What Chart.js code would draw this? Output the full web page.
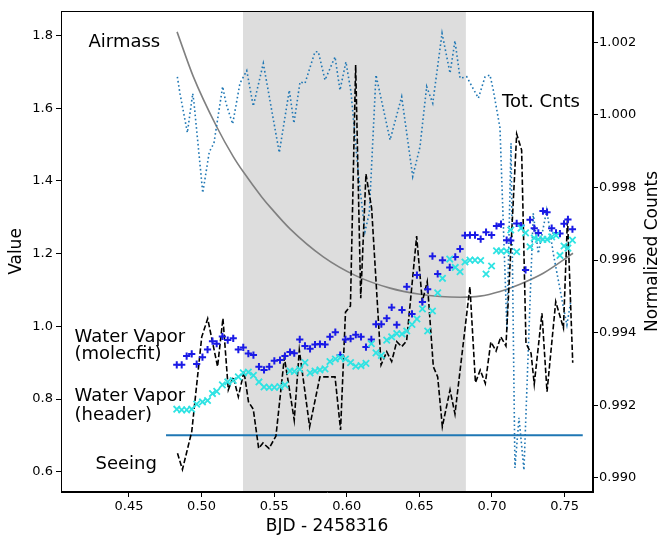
<!DOCTYPE html>
<html>
<head>
<meta charset="utf-8">
<script src="https://cdn.jsdelivr.net/npm/chart.js@4.4.0/dist/chart.umd.min.js"></script>
<style>
  body { margin: 0; background: #fff; }
  #wrap { width: 663px; height: 539px; }
</style>
</head>
<body>
<div id="wrap"><canvas id="chart" width="663" height="539"></canvas></div>
<script>
// time grid for the water vapour points (BJD - 2458316)
const bjd = [
  0.4829, 0.4863, 0.4897, 0.4932, 0.4966, 0.5006, 0.5041, 0.5075, 0.5104, 0.5143,
  0.5180, 0.5218, 0.5253, 0.5287, 0.5322, 0.5357, 0.5395, 0.5430, 0.5466, 0.5501,
  0.5540, 0.5574, 0.5609, 0.5638, 0.5676, 0.5712, 0.5747, 0.5781, 0.5815, 0.5850,
  0.5884, 0.5921, 0.5955, 0.5991, 0.6026, 0.6062, 0.6098, 0.6132, 0.6169, 0.6201,
  0.6238, 0.6275, 0.6309, 0.6344, 0.6380, 0.6413, 0.6449, 0.6483, 0.6521, 0.6557,
  0.6590, 0.6626, 0.6659, 0.6709, 0.6747, 0.6780, 0.6814, 0.6848, 0.6883, 0.6922,
  0.6959, 0.6997, 0.7031, 0.7062, 0.7101, 0.7129, 0.7170, 0.7200, 0.7231, 0.7262,
  0.7291, 0.7319, 0.7351, 0.7379, 0.7411, 0.7441, 0.7468, 0.7496, 0.7523, 0.7554
];
const wvMolecfit = [
  0.894, 0.894, 0.918, 0.924, 0.896, 0.915, 0.936, 0.959, 0.952, 0.972,
  0.962, 0.967, 0.936, 0.942, 0.925, 0.921, 0.889, 0.880, 0.889, 0.905,
  0.907, 0.918, 0.929, 0.926, 0.964, 0.946, 0.938, 0.950, 0.951, 0.950,
  0.971, 0.984, 0.921, 0.964, 0.966, 0.977, 0.971, 0.943, 0.964, 1.006,
  1.006, 1.022, 1.052, 1.004, 1.045, 1.109, 1.034, 1.141, 1.067, 1.102,
  1.193, 1.144, 1.182, 1.162, 1.191, 1.213, 1.250, 1.251, 1.251, 1.240,
  1.259, 1.251, 1.276, 1.281, 1.237, 1.236, 1.283, 1.277, 1.155, 1.293,
  1.270, 1.257, 1.317, 1.314, 1.270, 1.257, 1.255, 1.282, 1.294, 1.267
];
const wvHeader = [
  0.772, 0.770, 0.770, 0.772, 0.786, 0.792, 0.796, 0.815, 0.821, 0.839,
  0.847, 0.851, 0.861, 0.872, 0.874, 0.865, 0.847, 0.833, 0.832, 0.832,
  0.834, 0.839, 0.877, 0.876, 0.882, 0.900, 0.872, 0.877, 0.880, 0.883,
  0.903, 0.910, 0.914, 0.910, 0.900, 0.890, 0.892, 0.898, 0.952, 0.927,
  0.920, 0.962, 0.971, 0.980, 0.979, 0.987, 1.005, 1.020, 1.048, 0.987,
  1.042, 1.092, 1.132, 1.185, 1.162, 1.150, 1.177, 1.182, 1.182, 1.181,
  1.144, 1.166, 1.208, 1.207, 1.207, 1.265, 1.205, 1.270, 1.257, 1.219,
  1.243, 1.239, 1.239, 1.239, 1.246, 1.250, 1.195, 1.221, 1.215, 1.237
];

const airmassBjd = [0.4831, 0.4943, 0.5104, 0.5218, 0.5287, 0.5414, 0.5483, 0.5609, 0.5838, 0.6068,
  0.6298, 0.6504, 0.6642, 0.6780, 0.6917, 0.7055, 0.7193, 0.7353, 0.7558];
const airmass = [1.810, 1.687, 1.549, 1.467, 1.425, 1.356, 1.323, 1.268, 1.191, 1.138,
  1.105, 1.088, 1.082, 1.080, 1.083, 1.096, 1.116, 1.146, 1.201];

const seeingBjd = [
  0.4834, 0.4868, 0.4932, 0.5001, 0.5042, 0.5110, 0.5147, 0.5184, 0.5218, 0.5253,
  0.5292, 0.5323, 0.5356, 0.5393, 0.5423, 0.5464, 0.5512, 0.5570, 0.5602, 0.5638,
  0.5673, 0.5744, 0.5815, 0.5919, 0.5957, 0.5991, 0.6025, 0.6061, 0.6096, 0.6132,
  0.6171, 0.6236, 0.6275, 0.6309, 0.6344, 0.6378, 0.6412, 0.6481, 0.6520, 0.6554,
  0.6596, 0.6626, 0.6658, 0.6711, 0.6745, 0.6848, 0.6886, 0.6919, 0.6954, 0.6992,
  0.7028, 0.7061, 0.7096, 0.7170, 0.7204, 0.7234, 0.7269, 0.7291, 0.7344, 0.7379,
  0.7439, 0.7492, 0.7520, 0.7556
];
const seeing = [
  0.651, 0.606, 0.710, 0.971, 1.021, 0.889, 1.022, 0.825, 0.861, 0.806,
  0.876, 0.792, 0.772, 0.664, 0.679, 0.664, 0.698, 0.914, 0.834, 0.742,
  0.935, 0.724, 0.861, 0.861, 0.715, 1.039, 1.056, 1.719, 1.077, 1.419,
  1.325, 0.894, 0.930, 0.903, 0.958, 0.944, 0.960, 1.248, 1.068, 1.123,
  0.889, 0.861, 0.724, 0.825, 0.759, 1.109, 0.845, 0.880, 0.843, 0.957,
  0.932, 0.971, 0.946, 1.529, 1.485, 0.953, 0.926, 0.841, 1.036, 0.820,
  1.068, 0.995, 1.298, 0.900
];

const cntsBjd = [
  0.4833, 0.4851, 0.4902, 0.4939, 0.4948, 0.5008, 0.5053, 0.5085, 0.5145, 0.5168,
  0.5214, 0.5264, 0.5311, 0.5356, 0.5425, 0.5535, 0.5604, 0.5636, 0.5678, 0.5712,
  0.5781, 0.5804, 0.5850, 0.5919, 0.5953, 0.5994, 0.6029, 0.6079, 0.6125, 0.6155,
  0.6201, 0.6298, 0.6378, 0.6454, 0.6504, 0.6550, 0.6592, 0.6656, 0.6711, 0.6745,
  0.6780, 0.6826, 0.6906, 0.6952, 0.6986, 0.7009, 0.7055, 0.7103, 0.7131, 0.7158,
  0.7186, 0.7220, 0.7284, 0.7319, 0.7377, 0.7422, 0.7491, 0.7516, 0.7544
];
const totCnts = [
  1.00105, 1.00059, 0.99951, 1.00059, 1.00032, 0.99785, 0.99898, 0.99922, 1.00078, 1.00032,
  0.99975, 1.00087, 1.00122, 1.00024, 1.00142, 0.99896, 1.00068, 0.99977, 1.00091, 1.00087,
  1.00174, 1.00174, 1.00096, 1.00160, 1.00068, 1.00146, 1.00063, 0.99839, 0.99678, 0.99729,
  1.00110, 0.99931, 1.00050, 0.99830, 0.99912, 1.00078, 1.00032, 1.00225, 1.00115, 1.00204,
  1.00101, 1.00105, 1.00046, 1.00105, 1.00110, 1.00068, 0.99964, 0.99407, 0.99922, 0.99027,
  0.99165, 0.99021, 0.99729, 0.99618, 0.99738, 0.99618, 0.99471, 0.99421, 0.99490
];

const refLineBjd = [0.4755, 0.7625];
const refLine = [0.70, 0.70];

const transitWindow = [0.5285, 0.6820];

const xTicks = [0.45, 0.50, 0.55, 0.60, 0.65, 0.70, 0.75];
const valueTicks = [0.6, 0.8, 1.0, 1.2, 1.4, 1.6, 1.8];
const countTicks = [0.990, 0.992, 0.994, 0.996, 0.998, 1.000, 1.002];

const toPoints = (xs, ys) => xs.map((x, i) => ({ x: x, y: ys[i] }));

const FONT = '"DejaVu Sans", sans-serif';

// text labels next to the curves, in data coordinates
const notes = [
  { text: 'Airmass', x: 0.4221, y: 1.7692 },
  { text: 'Tot. Cnts', x: 0.7069, y: 1.6041 },
  { text: 'Water Vapor', x: 0.4125, y: 0.9582 },
  { text: '(molecfit)', x: 0.4125, y: 0.9087 },
  { text: 'Water Vapor', x: 0.4125, y: 0.7945 },
  { text: '(header)', x: 0.4125, y: 0.7409 },
  { text: 'Seeing', x: 0.4269, y: 0.6066 },
];

const decorPlugin = {
  id: 'decor',
  beforeDatasetsDraw(chart) {
    const { ctx, chartArea, scales } = chart;
    const x0 = scales.x.getPixelForValue(transitWindow[0]);
    const x1 = scales.x.getPixelForValue(transitWindow[1]);
    ctx.save();
    ctx.fillStyle = '#dddddd';
    ctx.fillRect(x0, chartArea.top, x1 - x0, chartArea.bottom - chartArea.top);
    ctx.restore();
  },
  afterDatasetsDraw(chart) {
    const { ctx, chartArea, scales } = chart;
    ctx.save();
    ctx.fillStyle = '#000';
    ctx.font = '18px ' + FONT;
    ctx.textBaseline = 'alphabetic';
    ctx.textAlign = 'left';
    notes.forEach((n) => {
      ctx.fillText(n.text, scales.x.getPixelForValue(n.x), scales.y.getPixelForValue(n.y));
    });
    ctx.strokeStyle = '#000';
    ctx.lineWidth = 1;
    ctx.strokeRect(chartArea.left + 0.5, chartArea.top + 0.5,
      chartArea.right - chartArea.left - 1, chartArea.bottom - chartArea.top - 1);

    // right axis title reads bottom-to-top like the left one
    const y2 = scales.y2;
    ctx.translate(y2.right - 10, (chartArea.top + chartArea.bottom) / 2);
    ctx.rotate(-Math.PI / 2);
    ctx.font = '17px ' + FONT;
    ctx.textAlign = 'center';
    ctx.textBaseline = 'middle';
    ctx.fillText('Normalized Counts', 0, 0);
    ctx.restore();
  },
};

const axisGrid = { display: true, drawOnChartArea: false, drawTicks: true, tickLength: 5, color: '#000' };

const ctx = document.getElementById('chart').getContext('2d');
new Chart(ctx, {
  type: 'scatter',
  data: {
    datasets: [
      {
        label: 'Water Vapor (header)',
        data: toPoints(bjd, wvHeader),
        yAxisID: 'y',
        showLine: false,
        pointStyle: 'crossRot',
        pointRadius: 4.5,
        pointBorderWidth: 1.8,
        borderColor: '#2fe3e3',
        backgroundColor: '#2fe3e3',
      },
      {
        label: 'Water Vapor (molecfit)',
        data: toPoints(bjd, wvMolecfit),
        yAxisID: 'y',
        showLine: false,
        pointStyle: 'cross',
        pointRadius: 3.6,
        pointBorderWidth: 2,
        borderColor: '#1a1ae6',
        backgroundColor: '#1a1ae6',
      },
      {
        label: 'Seeing',
        data: toPoints(seeingBjd, seeing),
        yAxisID: 'y',
        showLine: true,
        pointRadius: 0,
        borderColor: '#000',
        borderWidth: 1.6,
        borderDash: [5.5, 2.4],
      },
      {
        label: 'Tot. Cnts',
        data: toPoints(cntsBjd, totCnts),
        yAxisID: 'y2',
        showLine: true,
        pointRadius: 0,
        borderColor: '#1f77b4',
        borderWidth: 1.6,
        borderDash: [1.6, 2.6],
      },
      {
        label: 'Airmass',
        data: toPoints(airmassBjd, airmass),
        yAxisID: 'y',
        showLine: true,
        pointRadius: 0,
        cubicInterpolationMode: 'monotone',
        borderColor: '#808080',
        borderWidth: 1.6,
      },
      {
        label: 'Reference',
        data: toPoints(refLineBjd, refLine),
        yAxisID: 'y',
        showLine: true,
        pointRadius: 0,
        borderColor: '#1f77b4',
        borderWidth: 2,
      },
    ],
  },
  options: {
    responsive: false,
    animation: false,
    devicePixelRatio: 1,
    layout: { padding: { top: 11, left: 0, right: 0, bottom: 0 } },
    plugins: { legend: { display: false }, tooltip: { enabled: false } },
    scales: {
      x: {
        type: 'linear',
        position: 'bottom',
        min: 0.40317,
        max: 0.76956,
        afterBuildTicks: (s) => { s.ticks = xTicks.map((v) => ({ value: v })); },
        afterFit: (s) => { s.height = 47; },
        ticks: {
          color: '#000', font: { family: FONT, size: 13 }, padding: 2, maxRotation: 0,
          callback: (v) => v.toFixed(2),
        },
        grid: axisGrid,
        border: { display: true, color: '#000', width: 1 },
        title: { display: true, text: 'BJD - 2458316', color: '#000', font: { family: FONT, size: 17 }, padding: { top: 0, bottom: 2 } },
      },
      y: {
        type: 'linear',
        position: 'left',
        min: 0.5442,
        max: 1.8674,
        afterBuildTicks: (s) => { s.ticks = valueTicks.map((v) => ({ value: v })); },
        afterFit: (s) => { s.width = 61; },
        ticks: {
          color: '#000', font: { family: FONT, size: 13 }, padding: 3,
          callback: (v) => v.toFixed(1),
        },
        grid: axisGrid,
        border: { display: true, color: '#000', width: 1 },
        title: { display: true, text: 'Value', color: '#000', font: { family: FONT, size: 17 }, padding: { top: 6, bottom: 0 } },
      },
      y2: {
        type: 'linear',
        position: 'right',
        min: 0.989606,
        max: 1.002863,
        afterBuildTicks: (s) => { s.ticks = countTicks.map((v) => ({ value: v })); },
        afterFit: (s) => { s.width = 70; },
        ticks: {
          color: '#000', font: { family: FONT, size: 13 }, padding: 1,
          callback: (v) => v.toFixed(3),
        },
        grid: axisGrid,
        border: { display: true, color: '#000', width: 1 },
        title: { display: false },
      },
    },
  },
  plugins: [decorPlugin],
});
</script>
</body>
</html>
